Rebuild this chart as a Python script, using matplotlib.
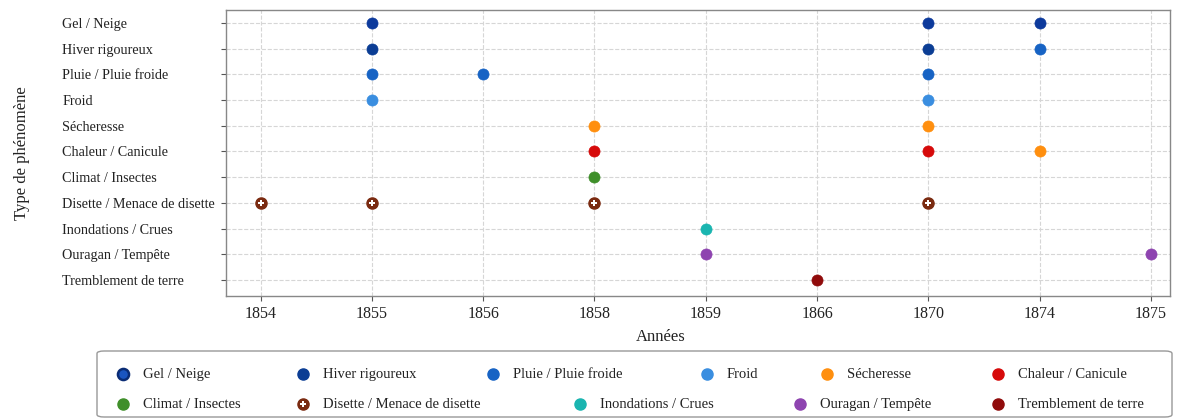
import matplotlib
matplotlib.use("Agg")
import matplotlib.pyplot as plt
from matplotlib.lines import Line2D
from matplotlib.patches import FancyBboxPatch

plt.rcParams['font.family'] = ['Liberation Serif', 'DejaVu Serif']

# Categories (y rows, top to bottom)
types = ["Gel / Neige", "Hiver rigoureux", "Pluie / Pluie froide", "Froid",
         "Sécheresse", "Chaleur / Canicule", "Climat / Insectes",
         "Disette / Menace de disette", "Inondations / Crues",
         "Ouragan / Tempête", "Tremblement de terre"]
# Years (categorical x axis)
years = ["1854", "1855", "1856", "1858", "1859", "1866", "1870", "1874", "1875"]

# Colours per legend category
colors = {
    "Gel / Neige": "#0d3a9c",
    "Hiver rigoureux": "#0b3d94",
    "Pluie / Pluie froide": "#1763c4",
    "Froid": "#3a8ee0",
    "Sécheresse": "#ff8f0f",
    "Chaleur / Canicule": "#d60a0a",
    "Climat / Insectes": "#3f8f2a",
    "Disette / Menace de disette": "#7a2a10",
    "Inondations / Crues": "#1ab5b0",
    "Ouragan / Tempête": "#8e44b0",
    "Tremblement de terre": "#900b0b",
}

# Points: row (type), year, colour category
point_rows = ["Gel / Neige", "Gel / Neige", "Gel / Neige",
              "Hiver rigoureux", "Hiver rigoureux", "Hiver rigoureux",
              "Pluie / Pluie froide", "Pluie / Pluie froide", "Pluie / Pluie froide",
              "Froid", "Froid",
              "Sécheresse", "Sécheresse",
              "Chaleur / Canicule", "Chaleur / Canicule", "Chaleur / Canicule",
              "Climat / Insectes",
              "Disette / Menace de disette", "Disette / Menace de disette",
              "Disette / Menace de disette", "Disette / Menace de disette",
              "Inondations / Crues",
              "Ouragan / Tempête", "Ouragan / Tempête",
              "Tremblement de terre"]
point_years = ["1855", "1870", "1874",
               "1855", "1870", "1874",
               "1855", "1856", "1870",
               "1855", "1870",
               "1858", "1870",
               "1858", "1870", "1874",
               "1858",
               "1854", "1855", "1858", "1870",
               "1859",
               "1859", "1875",
               "1866"]
point_kinds = ["Gel / Neige", "Gel / Neige", "Gel / Neige",
               "Hiver rigoureux", "Hiver rigoureux", "Pluie / Pluie froide",
               "Pluie / Pluie froide", "Pluie / Pluie froide", "Pluie / Pluie froide",
               "Froid", "Froid",
               "Sécheresse", "Sécheresse",
               "Chaleur / Canicule", "Chaleur / Canicule", "Sécheresse",
               "Climat / Insectes",
               "Disette / Menace de disette", "Disette / Menace de disette",
               "Disette / Menace de disette", "Disette / Menace de disette",
               "Inondations / Crues",
               "Ouragan / Tempête", "Ouragan / Tempête",
               "Tremblement de terre"]

W, H = 1186, 419
fig = plt.figure(figsize=(W/100, H/100), dpi=100)
ax = fig.add_axes([226/W, 1-296/H, (1170-226)/W, (296-10)/H])

ypos = {t: i for i, t in enumerate(types)}
xpos = {y: i for i, y in enumerate(years)}

MS = 8
for r, yr, k in zip(point_rows, point_years, point_kinds):
    x, y = xpos[yr], ypos[r]
    if k == "Disette / Menace de disette":
        ax.plot(x, y, 'o', ms=MS, color=colors[k], mec=colors[k], zorder=3)
        ax.plot(x, y, 'P', ms=5, color='white', mec='white', mew=0, zorder=4)
    else:
        ax.plot(x, y, 'o', ms=MS, color=colors[k], mec=colors[k], mew=0.5, zorder=3)

ax.set_yticks(range(len(types)))
ax.set_yticklabels(types, fontsize=10.2, ha='left')
ax.set_xticks(range(len(years)))
ax.set_xticklabels(years, fontsize=11.5)
ax.set_xlim(-0.31, 8.17)
ax.set_ylim(10.62, -0.5)

ax.grid(True, linestyle='--', color='#d6d6d6', linewidth=0.8)
ax.set_axisbelow(True)
for s in ax.spines.values():
    s.set_color('#888888')
    s.set_linewidth(1.0)
ax.tick_params(axis='both', colors='#555555', length=3.5, labelcolor='#222222')
ax.tick_params(axis='y', pad=159 * 0.72)

ax.set_xlabel("Années", fontsize=12, color='#222222')
ax.xaxis.set_label_coords(0.46, -0.115)
ax.set_ylabel("Type de phénomène", fontsize=12, color='#222222')
ax.yaxis.set_label_coords(-0.208, 0.5)

# Legend (laid out like the reference's flowing legend)
box = FancyBboxPatch((97/W, 2/H), (1172-97)/W, 66/H,
                     boxstyle="round,pad=0,rounding_size=0.006",
                     transform=fig.transFigure, facecolor='white',
                     edgecolor='#999999', linewidth=1.0)
fig.add_artist(box)

legend_rows = [
    ["Gel / Neige", "Hiver rigoureux", "Pluie / Pluie froide", "Froid",
     "Sécheresse", "Chaleur / Canicule"],
    ["Climat / Insectes", "Disette / Menace de disette", "Inondations / Crues",
     "Ouragan / Tempête", "Tremblement de terre"],
]
legend_x = [[123, 303, 493, 707, 827, 998],
            [123, 303, 580, 800, 998]]
legend_y = [374, 404]
for row, xs, yy in zip(legend_rows, legend_x, legend_y):
    for t, xx in zip(row, xs):
        fx, fy = xx / W, 1 - yy / H
        if t == "Disette / Menace de disette":
            fig.add_artist(Line2D([fx], [fy], marker='o', ls='', ms=8,
                                  color=colors[t], transform=fig.transFigure))
            fig.add_artist(Line2D([fx], [fy], marker='P', ls='', ms=5,
                                  color='white', mew=0, transform=fig.transFigure))
        elif t == "Gel / Neige":
            fig.add_artist(Line2D([fx], [fy], marker='o', ls='', ms=8,
                                  color="#1a55c0", mec="#0a2c75", mew=1.8,
                                  transform=fig.transFigure))
        else:
            fig.add_artist(Line2D([fx], [fy], marker='o', ls='', ms=8,
                                  color=colors[t], transform=fig.transFigure))
        fig.text((xx + 20) / W, fy, t, fontsize=10.5, va='center', ha='left',
                 color='#222222')

fig.savefig("out.png", dpi=100)
